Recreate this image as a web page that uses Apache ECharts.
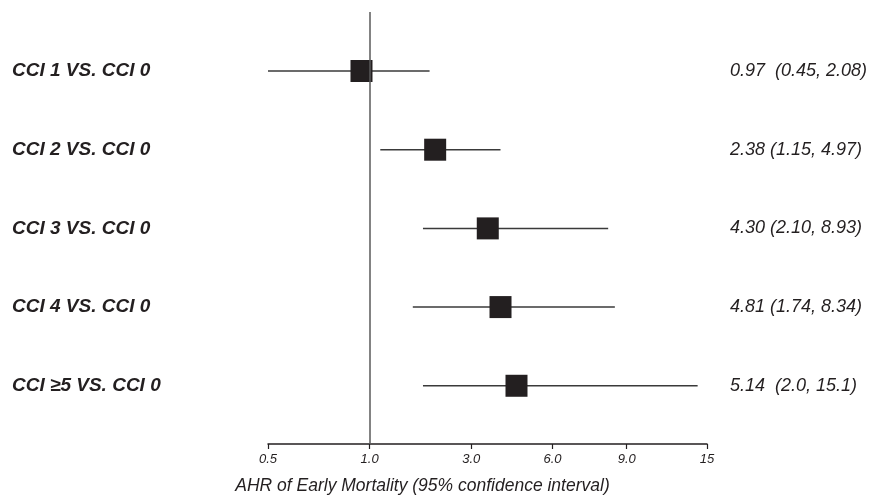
<!DOCTYPE html>
<html>
<head>
<meta charset="utf-8">
<script src="https://cdn.jsdelivr.net/npm/echarts@6/dist/echarts.min.js"></script>
<style>
  html, body { margin: 0; padding: 0; background: #fff; }
  #chart { width: 876px; height: 495px; }
</style>
</head>
<body>
<div id="chart"></div>
<script>
// rows of the forest plot
var rowLabels = ['CCI 1 VS. CCI 0', 'CCI 2 VS. CCI 0', 'CCI 3 VS. CCI 0', 'CCI 4 VS. CCI 0', 'CCI \u22655 VS. CCI 0'];
// AHR and CI ends as they sit on the printed axis
var estimates = [0.96, 2.29, 3.61, 4.08, 4.67];
var lowerCI = [0.50, 1.21, 2.05, 1.85, 2.05];
var upperCI = [2.18, 4.08, 8.25, 8.52, 14.3];
var ciText = ['0.97  (0.45, 2.08)', '2.38 (1.15, 4.97)', '4.30 (2.10, 8.93)', '4.81 (1.74, 8.34)', '5.14  (2.0, 15.1)'];

// x axis ticks, the axis is hand spaced so map values piecewise
var tickValues = [0.5, 1.0, 3.0, 6.0, 9.0, 15];
var tickLabels = ['0.5', '1.0', '3.0', '6.0', '9.0', '15'];
var tickUnits = [0, 1, 2, 2.8, 3.53, 4.32];

function toAxis(v) {
	var i = 0;
	while (i < tickValues.length - 2 && v > tickValues[i + 1]) i++;
	var t = (v - tickValues[i]) / (tickValues[i + 1] - tickValues[i]);
	return tickUnits[i] + t * (tickUnits[i + 1] - tickUnits[i]);
}

var rows = rowLabels.map(function(a, i) { return i; });
var ciData = rows.map(function(i) {
	return [toAxis(lowerCI[i]), toAxis(upperCI[i]), i];
});
var pointData = rows.map(function(i) {
	return [toAxis(estimates[i]), i];
});

var font = 'Liberation Sans, Arial, Helvetica, sans-serif';
var myChart = echarts.init(document.getElementById('chart'));

var yCommon = {
	type: 'value',
	inverse: true,
	min: -0.75,
	max: 4.74,
	axisLine: { show: false },
	axisTick: { show: false },
	splitLine: { show: false }
};

var option = {
	backgroundColor: '#ffffff',
	animation: false,
	grid: { left: 268, right: 169, top: 12, bottom: 51, containLabel: false, outerBoundsMode: 'none' },
	xAxis: {
		type: 'value',
		min: 0,
		max: tickUnits[tickUnits.length - 1],
		name: 'AHR of Early Mortality (95% confidence interval)',
		nameLocation: 'middle',
		nameGap: 33,
		nameTextStyle: {
			fontFamily: font,
			fontStyle: 'italic',
			fontSize: 17.5,
			color: '#231f20',
			padding: [0, 130, 0, 0]
		},
		splitLine: { show: false },
		axisLine: { onZero: false, lineStyle: { color: '#231f20', width: 1.5 } },
		axisTick: {
			customValues: tickValues.map(toAxis),
			length: 5,
			lineStyle: { color: '#231f20', width: 1.2 }
		},
		axisLabel: {
			customValues: tickValues.map(toAxis),
			margin: 9,
			fontFamily: font,
			fontStyle: 'italic',
			fontSize: 13,
			color: '#231f20',
			formatter: function(v) {
				for (var k = 0; k < tickUnits.length; k++) {
					if (Math.abs(tickUnits[k] - v) < 1e-6) return tickLabels[k];
				}
				return '';
			}
		}
	},
	yAxis: [
		Object.assign({}, yCommon, {
			position: 'left',
			axisLabel: {
				customValues: rows,
				align: 'left',
				margin: 256,
				padding: [8, 0, 0, 0],
				fontFamily: font,
				fontStyle: 'italic',
				fontWeight: 'bold',
				fontSize: 19,
				color: '#231f20',
				formatter: function(v) { return rowLabels[Math.round(v)]; }
			}
		}),
		Object.assign({}, yCommon, {
			position: 'right',
			axisLabel: {
				customValues: rows,
				align: 'left',
				margin: 23,
				padding: [6, 0, 0, 0],
				fontFamily: font,
				fontStyle: 'italic',
				fontSize: 18,
				color: '#231f20',
				formatter: function(v) { return ciText[Math.round(v)]; }
			}
		})
	],
	series: [{
		type: 'custom',
		encode: { x: [0, 1], y: 2 },
		renderItem: function(params, api) {
			var a = api.coord([api.value(0), api.value(2)]);
			var b = api.coord([api.value(1), api.value(2)]);
			return {
				type: 'line',
				shape: { x1: a[0], y1: a[1], x2: b[0], y2: b[1] },
				style: { stroke: '#3a3a3a', lineWidth: 1.5 }
			};
		},
		data: ciData,
		z: 2
	}, {
		type: 'scatter',
		symbol: 'rect',
		symbolSize: 22,
		itemStyle: { color: '#231f20', opacity: 1 },
		data: pointData,
		z: 3,
		markLine: {
			silent: true,
			symbol: 'none',
			label: { show: false },
			lineStyle: { color: '#5a5a5a', width: 1.5, type: 'solid' },
			data: [{ xAxis: toAxis(1.0) }]
		}
	}]
};

myChart.setOption(option);
</script>
</body>
</html>
